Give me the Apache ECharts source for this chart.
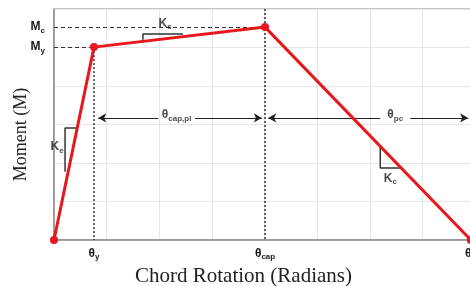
<!DOCTYPE html>
<html>
<head>
<meta charset="utf-8">
<script src="https://cdn.jsdelivr.net/npm/echarts@6/dist/echarts.min.js"></script>
<style>
  html, body { margin: 0; padding: 0; background: #fff; }
  #chart { width: 470px; height: 286px; }
</style>
</head>
<body>
<div id="chart"></div>
<script>
  // backbone curve (x in grid units of rotation, y in grid units of moment)
  var curveX = [0, 0.76, 4.01, 7.92]
  var curveY = [0, 5.01, 5.53, 0]
  // tick labels
  var thetaTicks = [0.76, 4.01, 7.92]
  var thetaSubs = ['y', 'cap', 'u']
  var momentTicks = [5.01, 5.53]
  var momentSubs = ['y', 'c']

  var red = '#e8171e'
  var ink = '#1a1a1a'

  function pickSub (ticks, subs, v) {
    for (var i = 0; i < ticks.length; i++) {
      if (Math.abs(ticks[i] - v) < 0.01) return subs[i]
    }
    return ''
  }

  var curve = curveX.map(function (x, i) { return [x, curveY[i]] })
  var yieldPt = curve[1], capPt = curve[2]

  // slope brackets, drawn off the curve
  var keBracket = [[0.44, 2.91], [0.21, 2.91], [0.21, 1.77]]
  var ksBracket = [[2.45, 5.35], [1.69, 5.35], [1.69, 5.2]]
  var kcBracket = [[6.2, 2.42], [6.2, 1.87], [6.62, 1.87]]
  // dimension arrows: [from, to, gapFrom, gapTo] along the arrow row
  var arrowY = 3.17
  var capPlArrow = [0.84, 3.95, 1.98, 2.68]
  var pcArrow = [4.07, 7.87, 6.2, 6.77]

  var chart = echarts.init(document.getElementById('chart'))

  var bold = { fontFamily: 'Arial, "Liberation Sans", sans-serif', fontWeight: 'bold', color: ink }
  var rich = {
    b: Object.assign({ fontSize: 12 }, bold),
    s: Object.assign({ fontSize: 8, padding: [7, 0, 0, 0] }, bold)
  }

  function bracketSeries (pts) {
    return {
      type: 'line', data: pts, symbol: 'none', silent: true, z: 3,
      lineStyle: { color: '#333', width: 1.5 }
    }
  }

  function arrowPair (a) {
    return [
      [{ coord: [a[2], arrowY] }, { coord: [a[0], arrowY] }],
      [{ coord: [a[3], arrowY] }, { coord: [a[1], arrowY] }]
    ]
  }

  chart.setOption({
    animation: false,
    grid: {
      left: 54, right: -5, top: 9, bottom: 46,
      outerBoundsMode: 'none', containLabel: false,
      show: true, borderColor: '#8c8c8c', borderWidth: 1
    },
    xAxis: {
      type: 'value', min: 0, max: 8, interval: 1,
      name: 'Chord Rotation (Radians)',
      nameLocation: 'middle', nameGap: 22,
      nameTextStyle: {
        fontFamily: '"Times New Roman", "Liberation Serif", serif',
        fontSize: 21, color: '#222', padding: [0, 42, 0, 0]
      },
      axisLine: { lineStyle: { color: '#8c8c8c', width: 1.5 } },
      axisTick: { show: false },
      splitLine: { lineStyle: { color: '#e6e6e6' } },
      axisLabel: {
        customValues: thetaTicks, margin: 6,
        formatter: function (v) { return '{b|θ}{s|' + pickSub(thetaTicks, thetaSubs, v) + '}' },
        rich: rich
      }
    },
    yAxis: {
      type: 'value', min: 0, max: 6, interval: 1,
      name: 'Moment (M)',
      nameLocation: 'middle', nameGap: 24, nameMoveOverlap: false,
      nameTextStyle: {
        fontFamily: '"Times New Roman", "Liberation Serif", serif',
        fontSize: 18, color: '#222', padding: [0, 20, 0, 0]
      },
      nameRotate: 90,
      axisLine: { show: true, lineStyle: { color: '#8c8c8c', width: 1.5 } },
      axisTick: { show: false },
      splitLine: { lineStyle: { color: '#e6e6e6' } },
      axisLabel: {
        customValues: momentTicks, margin: 9,
        formatter: function (v) { return '{b|M}{s|' + pickSub(momentTicks, momentSubs, v) + '}' },
        rich: rich
      }
    },
    series: [
      {
        type: 'line', data: curve, z: 5,
        symbol: 'circle', symbolSize: 8,
        itemStyle: { color: red },
        lineStyle: { color: red, width: 3 },
        markLine: {
          silent: true, symbol: 'none',
          label: { show: false },
          lineStyle: { color: '#333', width: 1, type: [4, 3] },
          data: [
            [{ coord: [0, capPt[1]] }, { coord: capPt }],
            [{ coord: [0, yieldPt[1]] }, { coord: yieldPt }],
            [{ coord: yieldPt, lineStyle: { type: [2, 2], width: 1.5 } }, { coord: [yieldPt[0], 0] }],
            [{ coord: [capPt[0], 6], lineStyle: { type: [2, 2], width: 1.5 } }, { coord: [capPt[0], 0] }]
          ]
        }
      },
      {
        type: 'line', data: [], silent: true,
        markLine: {
          silent: true, symbol: ['none', 'arrow'], symbolSize: [7, 8],
          lineStyle: { color: '#222', width: 1, type: 'solid' },
          label: { show: false },
          data: arrowPair(capPlArrow).concat(arrowPair(pcArrow))
        }
      },
      bracketSeries(keBracket),
      bracketSeries(ksBracket),
      bracketSeries(kcBracket),
      {
        type: 'scatter', symbolSize: 0, silent: true, z: 6,
        label: { show: true, position: 'inside', rich: rich },
        data: [
          { value: [0.06, 2.42], label: { formatter: '{b|K}{s|e}' } },
          { value: [2.11, 5.62], label: { formatter: '{b|K}{s|s}' } },
          { value: [6.39, 1.6], label: { formatter: '{b|K}{s|c}' } },
          { value: [(capPlArrow[2] + capPlArrow[3]) / 2, arrowY + 0.08], label: { formatter: '{b|θ}{s|cap,pl}' } },
          { value: [(pcArrow[2] + pcArrow[3]) / 2, arrowY + 0.08], label: { formatter: '{b|θ}{s|pc}' } }
        ]
      }
    ]
  })
</script>
</body>
</html>
